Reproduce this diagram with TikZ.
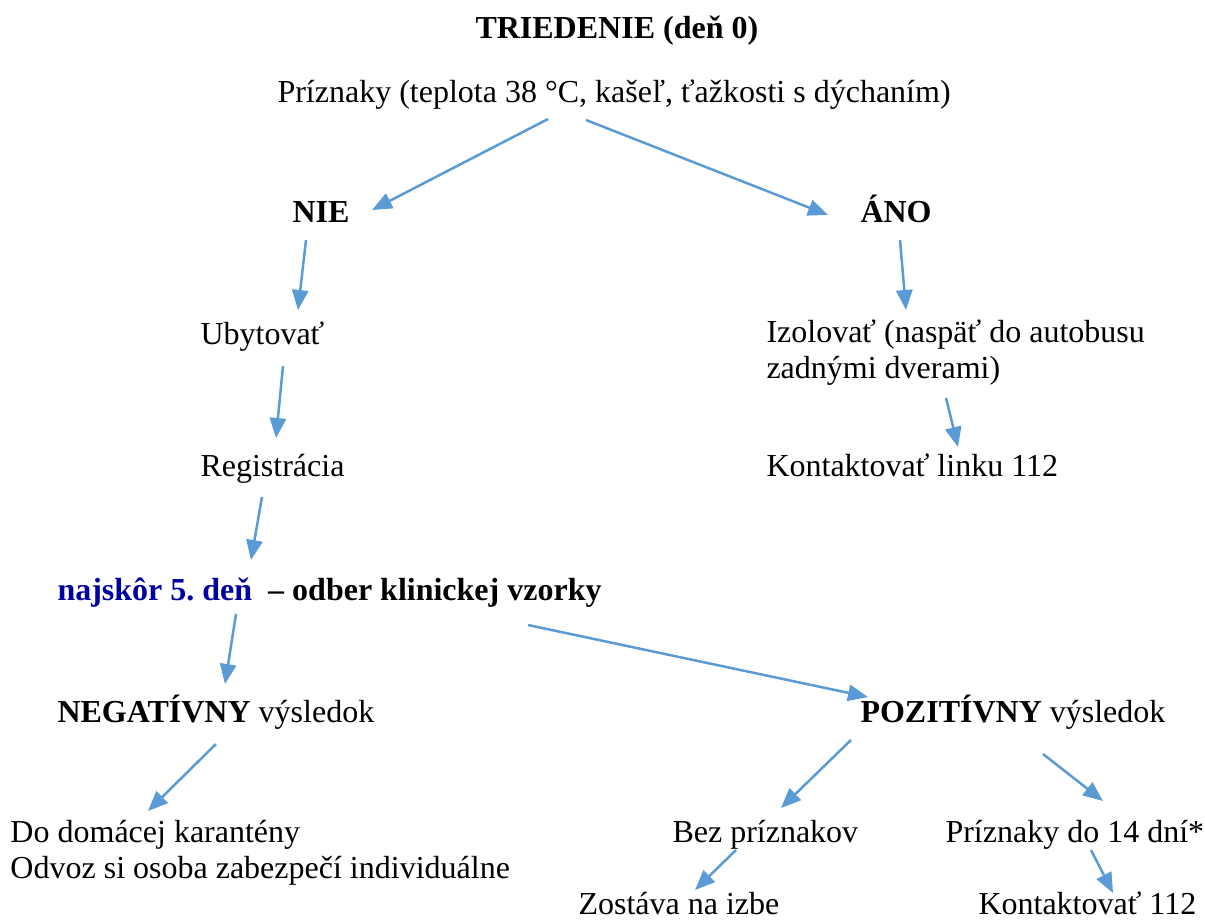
\documentclass[tikz,border=0pt]{standalone}
\usepackage{fontspec}
\setmainfont{Liberation Serif}
\usetikzlibrary{arrows.meta}
\definecolor{arrblue}{RGB}{91,155,213}
\definecolor{navytext}{RGB}{0,0,160}
\frenchspacing
\begin{document}
\begin{tikzpicture}[x=0.4pt, y=-0.4pt, font=\fontsize{12.8}{14.4}\selectfont, line join=round,
	txt/.style={anchor=base west, inner sep=0pt, align=left},
	bold/.style={txt, font=\fontsize{12.8}{14.4}\selectfont\bfseries},
	arr/.style={draw=arrblue, line width=1pt, -{Triangle[length=8pt,width=6.5pt]}}]
	\useasboundingbox (0,0) rectangle (1205,921);
	% texty
	\node[bold] (tri) at (475,38) {TRIEDENIE (deň 0)};
	\node[txt] (sym) at (277,102) {Príznaky (teplota 38 °C, kašeľ, ťažkosti s dýchaním)};
	\node[bold] (nie) at (292,222) {NIE};
	\node[bold] (ano) at (860,222) {ÁNO};
	\node[txt] (uby) at (200,344) {Ubytovať};
	\node[txt] (izo) at (766,378) {Izolovať (naspäť do autobusu\\zadnými dverami)};
	\node[txt] (reg) at (200,476) {Registrácia};
	\node[txt] (kon) at (766,476) {Kontaktovať linku 112};
	\node[bold] (odb) at (57,600) {\textcolor{navytext}{najskôr 5. deň}~ – odber klinickej vzorky};
	\node[txt] (neg) at (57,722) {\textbf{NEGATÍVNY} výsledok};
	\node[txt] (poz) at (860,722) {\textbf{POZITÍVNY} výsledok};
	\node[txt] (dom) at (10,878) {Do domácej karantény\\Odvoz si osoba zabezpečí individuálne};
	\node[txt] (bez) at (672,842) {Bez príznakov};
	\node[txt] (pr14) at (945,842) {Príznaky do 14 dní*};
	\node[txt] (zos) at (578,914) {Zostáva na izbe};
	\node[txt] (k112) at (978,914) {Kontaktovať 112};
	% sipky
	\foreach \a/\ax/\ay/\b/\bx/\by in {sym/271/17/nie/80/-12, sym/309/18/ano/-32/-7,
		nie/14/18/uby/98/-34, ano/40/18/izo/140/-68, uby/83/22/reg/76/-38, izo/180/20/kon/192/-29,
		reg/62/21/odb/194/-40, odb/179/14/neg/168/-38, odb/471/25/poz/8/-25,
		neg/159/22/dom/138/-67, poz/-9/18/bez/109/-34, poz/183/32/pr14/158/-41,
		bez/64/8/zos/117/-24, pr14/146/8/k112/135/-21}
	\draw[arr] ([shift={(\ax,\ay)}]\a.base west) -- ([shift={(\bx,\by)}]\b.base west);
\end{tikzpicture}
\end{document}
